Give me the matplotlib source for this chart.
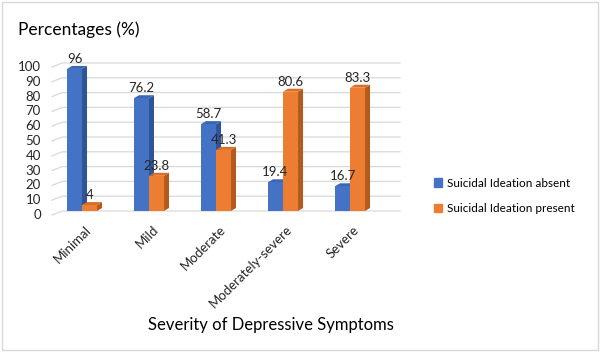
import numpy as np
import matplotlib.pyplot as plt
from matplotlib.patches import Polygon, Rectangle, Patch

categories = ['Minimal', 'Mild', 'Moderate', 'Moderately-severe', 'Severe']
absent = [96, 76.2, 58.7, 19.4, 16.7]
present = [4, 23.8, 41.3, 80.6, 83.3]
yticks = list(range(0, 101, 10))
series_names = ['Suicidal Ideation absent', 'Suicidal Ideation present']

plt.rcParams['font.family'] = ['Lato', 'DejaVu Sans']

blue = ('#4472C4', '#2F5597', '#3A66B6')      # front, side, top
orange = ('#ED7D31', '#B35A1F', '#D96E27')
grid_c = '#D9D9D9'

fig = plt.figure(figsize=(6, 3.52), dpi=100)
# axes in pixel terms: left 52, right 400, y=0 at 211, y=100 at 63
ax = fig.add_axes([52/600, (352-211)/352, 348/600, 148/352])
x0, x1 = -0.448, 4.746
ax.set_xlim(x0, x1)
ax.set_ylim(0, 100)
ux = (x1 - x0) / 348
uy = 100 / 148
for s in ax.spines.values():
    s.set_visible(False)
ax.set_yticks([])

# back-wall gridlines with a short floor diagonal at left
for t in yticks:
    ax.plot([x0, x0 + 10*ux, x1], [t - 4*uy, t, t], color=grid_c, lw=0.9,
            clip_on=False, zorder=0)
    ax.annotate(str(t), (x0, t - 4*uy), xytext=(-8, 0), textcoords='offset points',
                ha='right', va='center', fontsize=9.5, color='#262626',
                annotation_clip=False)

x = np.arange(len(categories))
w = 15 * ux
dx, dy = 5 * ux, 3 * uy


def bar3d(xl, v, cols, z):
    xr = xl + w
    ax.add_patch(Polygon([(xr, 0), (xr+dx, dy), (xr+dx, v+dy), (xr, v)],
                         closed=True, facecolor=cols[1], lw=0, zorder=z))
    ax.add_patch(Polygon([(xl, v), (xl+dx, v+dy), (xr+dx, v+dy), (xr, v)],
                         closed=True, facecolor=cols[2], lw=0, zorder=z))
    ax.bar(xl, v, width=w, align='edge', color=cols[0], lw=0, zorder=z+0.5)
    ax.annotate(f'{v:g}', (xl + w/2, v + dy), xytext=(0, 5),
                textcoords='offset points', ha='center', va='center',
                fontsize=9.5, color='#262626', zorder=10)


for i in x:
    bar3d(i - w, absent[i], blue, 2)
    bar3d(i, present[i], orange, 4)

ax.set_xticks(x + 3*ux)
ax.set_xticklabels(categories, rotation=45, ha='right', rotation_mode='anchor',
                   fontsize=9.5, color='#262626')
ax.tick_params(axis='x', length=0, pad=9)

fig.text(18/600, 1 - 30/352, 'Percentages (%)', fontsize=12.5, color='black',
         va='center', ha='left')
fig.text(271/600, 1 - 325/352, 'Severity of Depressive Symptoms', fontsize=12,
         color='black', va='center', ha='center')

handles = [Patch(color=blue[0]), Patch(color=orange[0])]
fig.legend(handles, series_names, loc='upper left',
           bbox_to_anchor=(423/600, 1 - 167/352), frameon=False,
           handlelength=0.7, handleheight=0.7, handletextpad=0.4,
           labelspacing=1.25, fontsize=8.5)

fig.add_artist(Rectangle((0.004, 0.006), 0.992, 0.988, transform=fig.transFigure,
                         fill=False, edgecolor=grid_c, lw=1))

fig.savefig('out.png', dpi=100)
